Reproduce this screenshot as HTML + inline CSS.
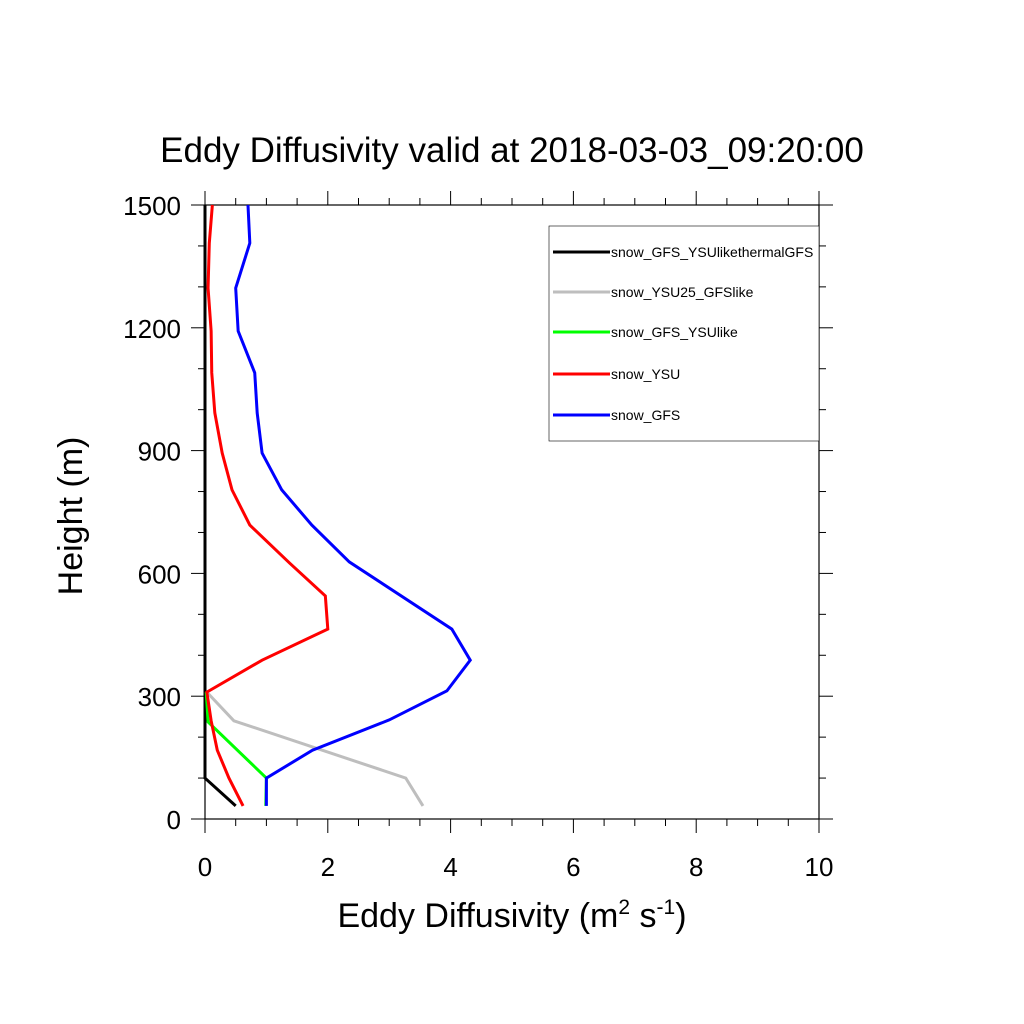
<!DOCTYPE html>
<html><head><meta charset="utf-8"><style>body{margin:0;background:#fff}svg{display:block;font-family:"Liberation Sans",sans-serif}</style></head>
<body>
<svg id="chart" width="1024" height="1024" viewBox="0 0 1024 1024">
<text x="512" y="162" font-size="35" text-anchor="middle">Eddy Diffusivity valid at 2018-03-03_09:20:00</text>
<g id="axes"></g>
<g id="series"></g>
<g id="legend"></g>
<text x="512" y="927" font-size="34" text-anchor="middle">Eddy Diffusivity (m<tspan dy="-13" font-size="21">2</tspan><tspan dy="13"> s</tspan><tspan dy="-13" font-size="21">-1</tspan><tspan dy="13">)</tspan></text>
<text transform="translate(82,516) rotate(-90)" font-size="34" text-anchor="middle">Height (m)</text>
</svg>
<script>
const seriesNames=["snow_GFS_YSUlikethermalGFS","snow_YSU25_GFSlike","snow_GFS_YSUlike","snow_YSU","snow_GFS"];
const seriesColors=["#000000","#bebebe","#00ff00","#ff0000","#0000ff"];
const blackH=[32,100,1500];const blackX=[0.5,0,0];
const greyH=[32,100,240,310];const greyX=[3.55,3.27,0.47,0.03];
const greenH=[32,100,237,310];const greenX=[0.99,1.0,0.05,0.02];
const redH=[32,100,168,240,310,388,464,545,625,718,804,894,992,1090,1192,1297,1407,1500];
const redX=[0.62,0.39,0.2,0.1,0.03,0.93,2.0,1.96,1.38,0.73,0.44,0.28,0.16,0.11,0.1,0.05,0.07,0.12];
const blueH=[32,100,168,242,313,388,464,628,718,804,894,992,1090,1192,1297,1407,1500];
const blueX=[1.0,1.0,1.75,3.0,3.94,4.32,4.02,2.35,1.74,1.25,0.93,0.85,0.81,0.54,0.5,0.73,0.7];
const xTicks=[0,2,4,6,8,10];const yTicks=[0,300,600,900,1200,1500];
const L=205,R=819,T=205,B=819;
const sx=v=>L+(R-L)*v/10, sy=v=>B-(B-T)*v/1500;
const NS="http://www.w3.org/2000/svg";
function mk(tag,attrs,parent){const e=document.createElementNS(NS,tag);for(const k in attrs)e.setAttribute(k,attrs[k]);parent.appendChild(e);return e;}
const ax=document.getElementById('axes');
const frame=mk('rect',{x:L,y:T,width:R-L,height:B-T,fill:'none',stroke:'#000','stroke-width':1.2},ax);


for(let v=0;v<=10.001;v+=0.5){const maj=Math.abs(v/2-Math.round(v/2))<1e-6;const len=maj?14:7;const x=sx(v);
const t1=mk('line',{x1:x,y1:B,x2:x,y2:B+len,stroke:'#000'},ax);


const t2=mk('line',{x1:x,y1:T,x2:x,y2:T-len,stroke:'#000'},ax);

}
for(let v=0;v<=1500;v+=100){const maj=v%300===0;const len=maj?14:7;const y=sy(v);
const t1=mk('line',{x1:L,y1:y,x2:L-len,y2:y,stroke:'#000'},ax);


const t2=mk('line',{x1:R,y1:y,x2:R+len,y2:y,stroke:'#000'},ax);

}
xTicks.forEach(v=>{const t=mk('text',{x:sx(v),y:876,'font-size':26,'text-anchor':'middle'},ax);t.textContent=v;

});
yTicks.forEach(v=>{const t=mk('text',{x:181,y:sy(v)+10,'font-size':26,'text-anchor':'end'},ax);t.textContent=v;

});
const sg=document.getElementById('series');
const data=[[blackX,blackH],[greyX,greyH],[greenX,greenH],[redX,redH],[blueX,blueH]];
data.forEach((d,i)=>{const pts=d[0].map((x,j)=>sx(x)+','+sy(d[1][j])).join(' ');
const p=mk('polyline',{points:pts,fill:'none',stroke:seriesColors[i],'stroke-width':3,'stroke-linejoin':'miter'},sg);

});
const lg=document.getElementById('legend');
const box=mk('rect',{x:549,y:226,width:270,height:215,fill:'#fff',stroke:'#000','stroke-width':0.6},lg);


const ly=[252,292,332,374,415];
seriesNames.forEach((n,i)=>{const l=mk('line',{x1:553,y1:ly[i],x2:610,y2:ly[i],stroke:seriesColors[i],'stroke-width':3},lg);


const t=mk('text',{x:611,y:ly[i]+5,'font-size':14},lg);t.textContent=n;

});
</script>
</body></html>
